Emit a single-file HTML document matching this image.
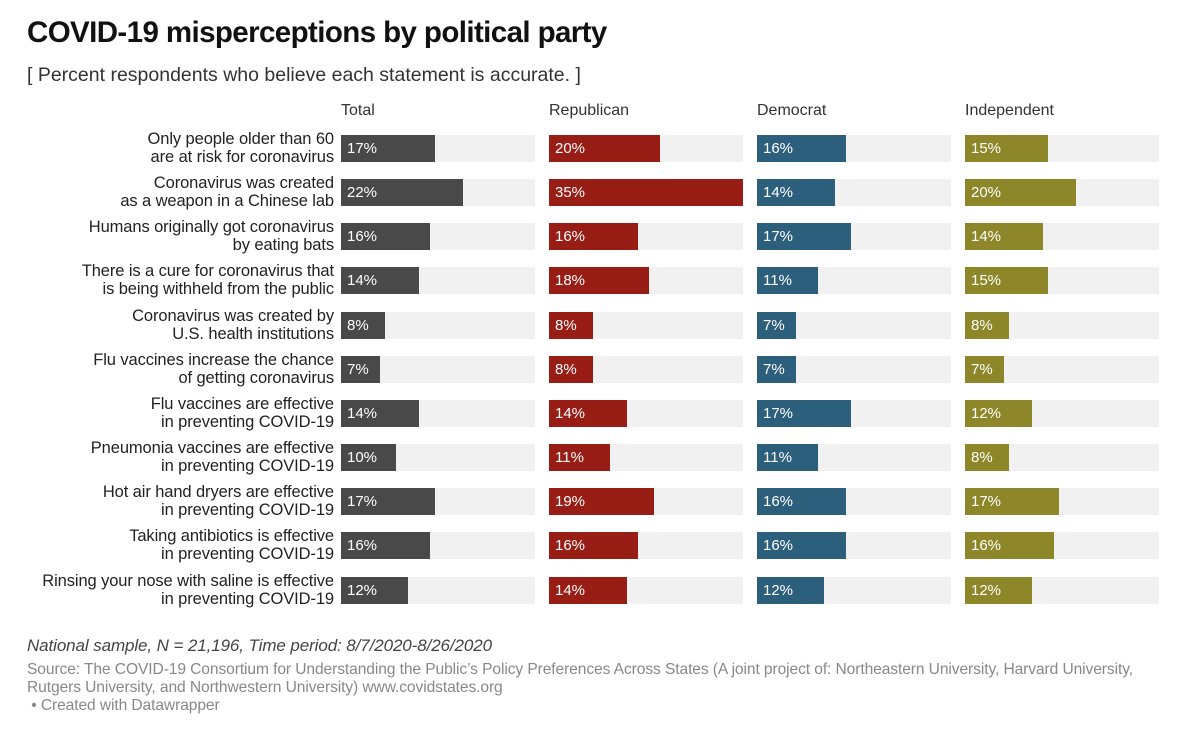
<!DOCTYPE html>
<html><head><meta charset="utf-8">
<style>
body{margin:0;width:1200px;height:738px;background:#fff;font-family:"Liberation Sans",sans-serif;position:relative;overflow:hidden}
.a{position:absolute;white-space:nowrap}
#title{left:27px;top:16px;font-size:29.5px;font-weight:bold;color:#111;letter-spacing:-0.6px}
#sub{left:27px;top:64px;font-size:19.5px;color:#333;letter-spacing:0px}
.colh{top:102px;font-size:16px;color:#333}
.lab{right:866px;font-size:16.5px;color:#222;text-align:right;line-height:18px;letter-spacing:-0.1px}
.bg{position:absolute;background:#f1f1f1;height:27px}
.bar{position:absolute;height:27px}
.val{position:absolute;font-size:15px;color:#fff;line-height:27px}
#note{left:27px;top:636px;font-size:17px;font-style:italic;color:#444;letter-spacing:-0.1px}
#src{left:27px;top:661px;font-size:15.6px;color:#888;line-height:18px;letter-spacing:-0.1px}
</style></head><body>
<div class="a" id="title">COVID-19 misperceptions by political party</div>
<div class="a" id="sub">[ Percent respondents who believe each statement is accurate. ]</div>
<div id="chart"></div>
<div class="a" id="note">National sample, N = 21,196, Time period: 8/7/2020-8/26/2020</div>
<div class="a" id="src">Source: The COVID-19 Consortium for Understanding the Public’s Policy Preferences Across States (A joint project of: Northeastern University, Harvard University,<br>Rutgers University, and Northwestern University) www.covidstates.org<br>&nbsp;• Created with Datawrapper</div>
<script>
const categories=[
["Only people older than 60","are at risk for coronavirus"],
["Coronavirus was created","as a weapon in a Chinese lab"],
["Humans originally got coronavirus","by eating bats"],
["There is a cure for coronavirus that","is being withheld from the public"],
["Coronavirus was created by","U.S. health institutions"],
["Flu vaccines increase the chance","of getting coronavirus"],
["Flu vaccines are effective","in preventing COVID-19"],
["Pneumonia vaccines are effective","in preventing COVID-19"],
["Hot air hand dryers are effective","in preventing COVID-19"],
["Taking antibiotics is effective","in preventing COVID-19"],
["Rinsing your nose with saline is effective","in preventing COVID-19"]];
const seriesNames=["Total","Republican","Democrat","Independent"];
const total=[17,22,16,14,8,7,14,10,17,16,12];
const republican=[20,35,16,18,8,8,14,11,19,16,14];
const democrat=[16,14,17,11,7,7,17,11,16,16,12];
const independent=[15,20,14,15,8,7,12,8,17,16,12];
const series=[total,republican,democrat,independent];
const colors=["#494949","#981d15","#2c5f7c","#8e8729"];
const colX=[341,549,757,965], colW=194, maxV=35;
const x=v=>v/maxV*colW;
const y=i=>135+i*44.15;
const c=document.getElementById('chart');
seriesNames.forEach((n,s)=>{
 const h=document.createElement('div');h.className='a colh';h.style.left=colX[s]+'px';h.textContent=n;
 
 
 c.appendChild(h);
});
categories.forEach((cat,i)=>{
 const l=document.createElement('div');l.className='a lab';l.style.top=(y(i)-5)+'px';l.innerHTML=cat[0]+'<br>'+cat[1];
 
 
 c.appendChild(l);
 series.forEach((arr,s)=>{
  const bg=document.createElement('div');bg.className='bg';bg.style.left=colX[s]+'px';bg.style.top=y(i)+'px';bg.style.width=colW+'px';
  
  
  c.appendChild(bg);
  const b=document.createElement('div');b.className='bar';b.style.left=colX[s]+'px';b.style.top=y(i)+'px';b.style.width=x(arr[i])+'px';b.style.background=colors[s];
  
  
  c.appendChild(b);
  const t=document.createElement('div');t.className='val';t.style.left=(colX[s]+6)+'px';t.style.top=y(i)+'px';t.textContent=arr[i]+'%';
  
  
  c.appendChild(t);
 });
});
</script>
</body></html>
